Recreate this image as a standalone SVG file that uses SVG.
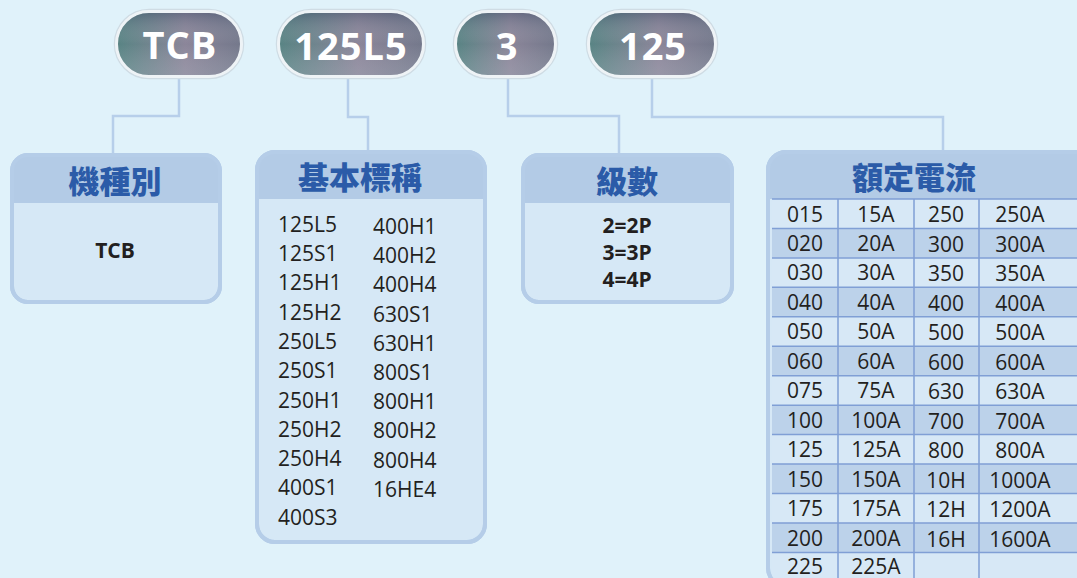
<svg xmlns="http://www.w3.org/2000/svg" width="1077" height="578" viewBox="0 0 1077 578">
<defs>
<linearGradient id="pillH" x1="0" y1="0" x2="1" y2="0">
<stop offset="0" stop-color="#4f7d7d"/>
<stop offset="0.55" stop-color="#857f94"/>
<stop offset="1" stop-color="#6c7185"/>
</linearGradient>
<linearGradient id="pillV" x1="0" y1="0" x2="0" y2="1">
<stop offset="0" stop-color="#3e4f6a" stop-opacity="0.35"/>
<stop offset="0.5" stop-color="#ffffff" stop-opacity="0.05"/>
<stop offset="1" stop-color="#cfd9e0" stop-opacity="0.25"/>
</linearGradient>
<style>
.pill{fill:url(#pillH);stroke:#eef3f6;stroke-width:3}
.pillshade{fill:url(#pillV)}
.pillglow{fill:none;stroke:#cfdce4;stroke-width:1.5}
.ptxt{font-family:"Open Sans","Liberation Sans",sans-serif;font-weight:700;font-size:38px;fill:#ffffff;text-anchor:middle;letter-spacing:1px}
.conn{fill:none;stroke:#b7cfea;stroke-width:2.5}
.box{fill:#d6e8f6;stroke:#b5cde8;stroke-width:4}
.hdr{fill:#b3cbe6}
.htxt{font-family:"Noto Sans CJK TC","Noto Sans CJK SC",sans-serif;font-weight:900;font-size:31px;fill:#2b5ba8;text-anchor:middle}
.btxt{font-family:"Open Sans","Liberation Sans",sans-serif;font-weight:700;font-size:21px;fill:#231f20;text-anchor:middle}
.ltxt{font-family:"Open Sans","Liberation Sans",sans-serif;font-size:21px;fill:#231f20}
.ttxt{font-family:"Open Sans","Liberation Sans",sans-serif;font-size:21px;fill:#231f20;text-anchor:middle}
.rl{fill:#d7e8f6}
.rd{fill:#bcd2ea}
.grid{stroke:#809fd5;stroke-width:1.5;fill:none}
</style>
<clipPath id="c1"><rect x="12" y="155" width="208" height="147" rx="16"/></clipPath>
<clipPath id="c2"><rect x="257" y="152" width="228" height="390" rx="18"/></clipPath>
<clipPath id="c3"><rect x="523" y="155" width="209" height="147" rx="16"/></clipPath>
<clipPath id="c4"><rect x="768" y="152" width="330" height="434" rx="18"/></clipPath>
</defs>
<rect x="0" y="0" width="1077" height="578" fill="#e0f2fa"/>

<g id="connectors">
<path class="conn" d="M179 78 V116 H113 V155"/>
<path class="conn" d="M348 78 V117 H368 V152"/>
<path class="conn" d="M508 78 V116 H619 V155"/>
<path class="conn" d="M652 78 V117 H943 V152"/>
</g>

<g id="pill-tcb">
<rect class="pillglow" x="114.5" y="9.5" width="129" height="69" rx="34.5"/>
<rect class="pill" x="116.5" y="11.5" width="125" height="65" rx="32.5"/>
<rect class="pillshade" x="118" y="13" width="122" height="62" rx="31"/>
<text class="ptxt" x="180" y="59">TCB</text>
</g>
<g id="pill-125l5">
<rect class="pillglow" x="276.5" y="9.5" width="149" height="69" rx="34.5"/>
<rect class="pill" x="278.5" y="11.5" width="145" height="65" rx="32.5"/>
<rect class="pillshade" x="280" y="13" width="142" height="62" rx="31"/>
<text class="ptxt" x="351" y="60">125L5</text>
</g>
<g id="pill-3">
<rect class="pillglow" x="453.5" y="9.5" width="104" height="69" rx="34.5"/>
<rect class="pill" x="455.5" y="11.5" width="100" height="65" rx="32.5"/>
<rect class="pillshade" x="457" y="13" width="97" height="62" rx="31"/>
<text class="ptxt" x="507" y="60">3</text>
</g>
<g id="pill-125">
<rect class="pillglow" x="586.5" y="9.5" width="131" height="69" rx="34.5"/>
<rect class="pill" x="588.5" y="11.5" width="127" height="65" rx="32.5"/>
<rect class="pillshade" x="590" y="13" width="124" height="62" rx="31"/>
<text class="ptxt" x="653" y="60">125</text>
</g>

<g id="box-type">
<rect class="box" x="12" y="155" width="208" height="147" rx="16"/>
<rect class="hdr" x="12" y="155" width="208" height="48" clip-path="url(#c1)"/>
<rect x="12" y="155" width="208" height="147" rx="16" fill="none" stroke="#b5cde8" stroke-width="4"/>
<text class="htxt" x="115" y="193">機種別</text>
<text class="btxt" x="115" y="258">TCB</text>
</g>

<g id="box-frame">
<rect class="box" x="257" y="152" width="228" height="390" rx="18"/>
<rect class="hdr" x="257" y="152" width="228" height="47" clip-path="url(#c2)"/>
<rect x="257" y="152" width="228" height="390" rx="18" fill="none" stroke="#b5cde8" stroke-width="4"/>
<text class="htxt" x="360" y="189">基本標稱</text>
<g class="ltxt">
<text x="278" y="231.7">125L5</text>
<text x="278" y="261">125S1</text>
<text x="278" y="290.3">125H1</text>
<text x="278" y="319.6">125H2</text>
<text x="278" y="348.9">250L5</text>
<text x="278" y="378.2">250S1</text>
<text x="278" y="407.5">250H1</text>
<text x="278" y="436.8">250H2</text>
<text x="278" y="466.1">250H4</text>
<text x="278" y="495.4">400S1</text>
<text x="278" y="524.7">400S3</text>
<text x="373" y="234">400H1</text>
<text x="373" y="263.2">400H2</text>
<text x="373" y="292.4">400H4</text>
<text x="373" y="321.6">630S1</text>
<text x="373" y="350.8">630H1</text>
<text x="373" y="380">800S1</text>
<text x="373" y="409.2">800H1</text>
<text x="373" y="438.4">800H2</text>
<text x="373" y="467.6">800H4</text>
<text x="373" y="496.8">16HE4</text>
</g>
</g>

<g id="box-poles">
<rect class="box" x="523" y="155" width="209" height="147" rx="16"/>
<rect class="hdr" x="523" y="155" width="209" height="48" clip-path="url(#c3)"/>
<rect x="523" y="155" width="209" height="147" rx="16" fill="none" stroke="#b5cde8" stroke-width="4"/>
<text class="htxt" x="627" y="193">級數</text>
<text class="btxt" x="627" y="233">2=2P</text>
<text class="btxt" x="627" y="260">3=3P</text>
<text class="btxt" x="627" y="287">4=4P</text>
</g>

<g id="box-current">
<rect class="box" x="768" y="152" width="330" height="434" rx="18"/>
<rect class="hdr" x="768" y="152" width="330" height="47" clip-path="url(#c4)"/>
<g>
<rect class="rl" x="772" y="199" width="320" height="29.45"/>
<rect class="rd" x="772" y="228.45" width="320" height="29.45"/>
<rect class="rl" x="772" y="257.9" width="320" height="29.45"/>
<rect class="rd" x="772" y="287.35" width="320" height="29.45"/>
<rect class="rl" x="772" y="316.8" width="320" height="29.45"/>
<rect class="rd" x="772" y="346.25" width="320" height="29.45"/>
<rect class="rl" x="772" y="375.7" width="320" height="29.45"/>
<rect class="rd" x="772" y="405.15" width="320" height="29.45"/>
<rect class="rl" x="772" y="434.6" width="320" height="29.45"/>
<rect class="rd" x="772" y="464.05" width="320" height="29.45"/>
<rect class="rl" x="772" y="493.5" width="320" height="29.45"/>
<rect class="rd" x="772" y="522.95" width="320" height="29.45"/>
<rect class="rl" x="772" y="552.4" width="320" height="40"/>
</g>
<path class="grid" d="M772 199 H1092 M772 228.45 H1092 M772 257.9 H1092 M772 287.35 H1092 M772 316.8 H1092 M772 346.25 H1092 M772 375.7 H1092 M772 405.15 H1092 M772 434.6 H1092 M772 464.05 H1092 M772 493.5 H1092 M772 522.95 H1092 M772 552.4 H1092 M838 199 V590 M914 199 V590 M979 199 V590"/>
<rect x="768" y="152" width="330" height="434" rx="18" fill="none" stroke="#b5cde8" stroke-width="4"/>
<text class="htxt" x="914" y="189">額定電流</text>
<g class="ttxt">
<text x="805" y="221.5">015</text><text x="876" y="221.5">15A</text><text x="946" y="221.5">250</text><text x="1020" y="221.5">250A</text>
<text x="805" y="251">020</text><text x="876" y="251">20A</text><text x="946" y="252">300</text><text x="1020" y="252">300A</text>
<text x="805" y="280.4">030</text><text x="876" y="280.4">30A</text><text x="946" y="281.4">350</text><text x="1020" y="281.4">350A</text>
<text x="805" y="309.9">040</text><text x="876" y="309.9">40A</text><text x="946" y="310.9">400</text><text x="1020" y="310.9">400A</text>
<text x="805" y="339.3">050</text><text x="876" y="339.3">50A</text><text x="946" y="340.3">500</text><text x="1020" y="340.3">500A</text>
<text x="805" y="368.8">060</text><text x="876" y="368.8">60A</text><text x="946" y="369.8">600</text><text x="1020" y="369.8">600A</text>
<text x="805" y="398.2">075</text><text x="876" y="398.2">75A</text><text x="946" y="399.2">630</text><text x="1020" y="399.2">630A</text>
<text x="805" y="427.7">100</text><text x="876" y="427.7">100A</text><text x="946" y="428.7">700</text><text x="1020" y="428.7">700A</text>
<text x="805" y="457.1">125</text><text x="876" y="457.1">125A</text><text x="946" y="458.1">800</text><text x="1020" y="458.1">800A</text>
<text x="805" y="486.6">150</text><text x="876" y="486.6">150A</text><text x="946" y="487.6">10H</text><text x="1020" y="487.6">1000A</text>
<text x="805" y="516">175</text><text x="876" y="516">175A</text><text x="946" y="517">12H</text><text x="1020" y="517">1200A</text>
<text x="805" y="545.5">200</text><text x="876" y="545.5">200A</text><text x="946" y="546.5">16H</text><text x="1020" y="546.5">1600A</text>
<text x="805" y="573.5">225</text><text x="876" y="573.5">225A</text>
</g>
</g>
</svg>
